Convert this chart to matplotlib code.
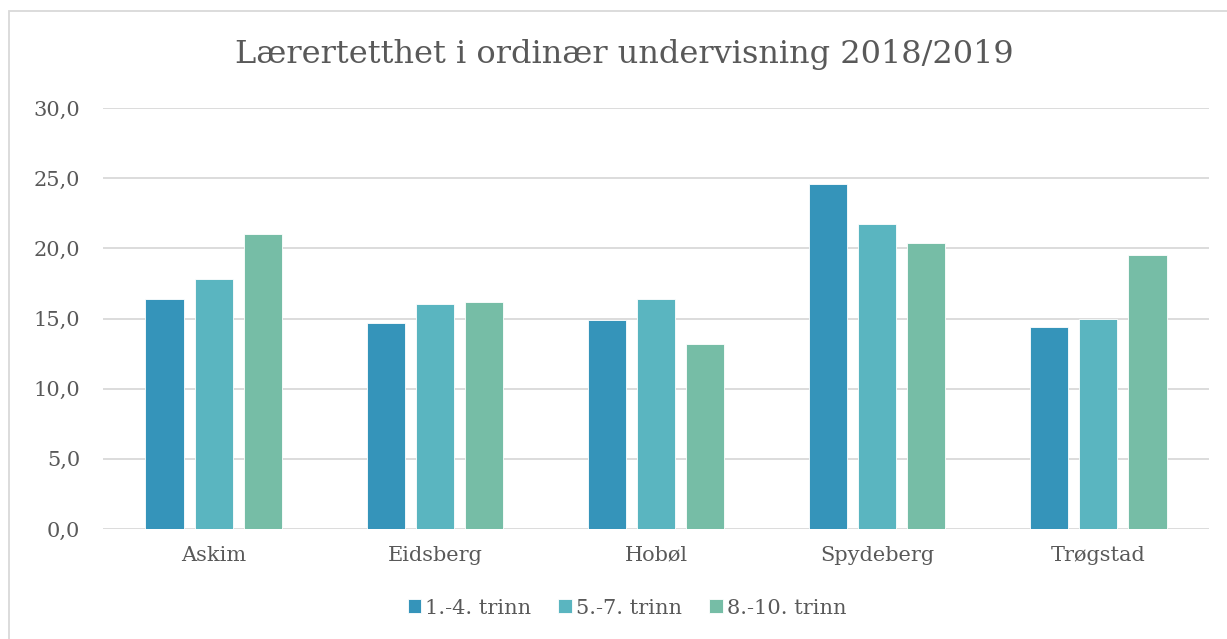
import numpy as np
import matplotlib
matplotlib.use("Agg")
import matplotlib.pyplot as plt
from matplotlib.patches import Rectangle

kommuner = ["Askim", "Eidsberg", "Hobøl", "Spydeberg", "Trøgstad"]
serier = ["1.-4. trinn", "5.-7. trinn", "8.-10. trinn"]
trinn_1_4 = [16.4, 14.7, 14.9, 24.6, 14.4]
trinn_5_7 = [17.8, 16.0, 16.4, 21.7, 15.0]
trinn_8_10 = [21.0, 16.2, 13.2, 20.4, 19.5]
farger = ["#3594BA", "#5AB5C0", "#76BDA6"]
yticks = [0, 5, 10, 15, 20, 25, 30]

tekst = "#595959"
plt.rcParams['font.family'] = ['DejaVu Serif']

fig = plt.figure(figsize=(12.27, 6.39), dpi=100)
ax = fig.add_axes([103/1227, 1-529/639, (1209-103)/1227, (529-108)/639])

# ramme rundt diagrammet
fig.patches.append(Rectangle((9/1227, -0.05), 1.2, 1-11/639+0.05, transform=fig.transFigure,
                             fill=False, edgecolor="#D9D9D9", linewidth=1.3))

x = np.arange(len(kommuner))
bredde = 0.172
steg = 0.222
for i, (verdier, navn) in enumerate(zip([trinn_1_4, trinn_5_7, trinn_8_10], serier)):
    ax.bar(x + (i - 1) * steg, verdier, bredde, color=farger[i], label=navn,
           edgecolor="white", linewidth=0.6, zorder=3)

ax.set_xlim(-0.5, len(kommuner) - 0.5)
ax.set_ylim(0, 30)
ax.set_yticks(yticks)
ax.set_yticklabels([f"{v:.1f}".replace(".", ",") for v in yticks])
ax.set_xticks(x)
ax.set_xticklabels(kommuner)
ax.grid(axis="y", color="#D9D9D9", linewidth=1.3, zorder=0)
for s in ax.spines.values():
    s.set_visible(False)
ax.tick_params(axis="both", length=0, labelsize=15, colors=tekst)
ax.tick_params(axis="y", pad=16.5)
ax.tick_params(axis="x", pad=12)

fig.text(624/1227, 1-55/639, "Lærertetthet i ordinær undervisning 2018/2019", ha="center", va="center",
         fontsize=23, color=tekst)

ax.legend(loc="center", bbox_to_anchor=((627-103)/1106, (529-608)/421), ncol=3, frameon=False,
          fontsize=15, labelcolor=tekst, handlelength=0.65, handleheight=0.65,
          handletextpad=0.2, columnspacing=1.3)

fig.savefig("out.png", dpi=100)
